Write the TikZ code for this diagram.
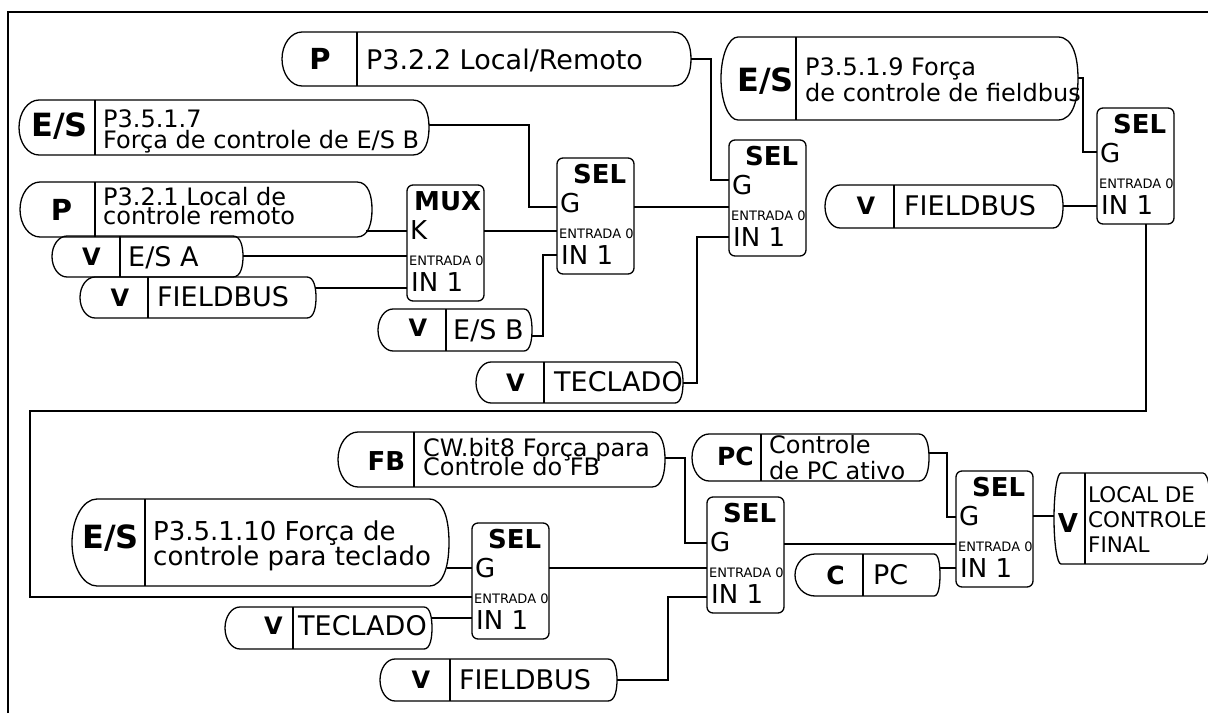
\documentclass[tikz,border=0pt]{standalone}
\usepackage{fontspec}
\setmainfont{DejaVu Sans}
\newcommand\fsz[1]{\fontsize{#1}{#1}\selectfont}
\newcommand\linesII[3]{\vtop{\baselineskip=#1pt\lineskiplimit=-100pt\lineskip=0pt\hbox{#2}\hbox{#3}}}
\newcommand\linesIII[4]{\vtop{\baselineskip=#1pt\lineskiplimit=-100pt\lineskip=0pt\hbox{#2}\hbox{#3}\hbox{#4}}}
% name xl xd xr yt yb rl rr
\newcommand\pillshape[8]{%
  \pgfmathsetmacro\pym{(#5+#6)/2}%
  \pgfmathsetmacro\phh{(#6-#5)/2}%
  \pgfmathsetmacro\pxa{#2+#7}%
  \pgfmathsetmacro\pxb{#4-#8}%
  \pgfmathsetmacro\pca{#2+#7*0.448}%
  \pgfmathsetmacro\pcb{#4-#8*0.2}%
  \pgfmathsetmacro\pyu{\pym-\phh*0.552}%
  \pgfmathsetmacro\pyd{\pym+\phh*0.552}%
  \pgfmathsetmacro\pyua{\pym-\phh*0.45}%
  \pgfmathsetmacro\pyda{\pym+\phh*0.45}%
  \pgfmathsetmacro\pcx{(#2+#4)/2}%
  \pgfmathsetmacro\pwd{#4-#2}%
  \pgfmathsetmacro\pht{#6-#5}%
  \node[pillnode, minimum width=\pwd pt, minimum height=\pht pt] (#1) at (\pcx,\pym) {};
  \draw[pillline] (\pxa,#5) -- (\pxb,#5) .. controls (\pcb,#5) and (#4,\pyua) .. (#4,\pym)
     .. controls (#4,\pyda) and (\pcb,#6) .. (\pxb,#6) -- (\pxa,#6)
     .. controls (\pca,#6) and (#2,\pyd) .. (#2,\pym)
     .. controls (#2,\pyu) and (\pca,#5) .. cycle;
  \draw[pillline] (#3,#5) -- (#3,#6);
}
% name x y title titledx ctrl
\newcommand\selblock[6]{%
  \node[selbox] (#1) at (#2,#3) {};
  \node[btx=26] (#1-t) at ({#2+#5},{#3+25}) {#4};
  \node[tx=26] (#1-c) at ({#2+3},{#3+54}) {#6};
  \node[tx=13] (#1-e) at ({#2+2},{#3+80}) {ENTRADA 0};
  \node[tx=26] (#1-i) at ({#2+4},{#3+106}) {IN 1};
}
\begin{document}
\begin{tikzpicture}[x=1pt,y=-1pt,
  wire/.style={line width=1.3pt},
  pillline/.style={line width=1.3pt, line join=round},
  pillnode/.style={draw=none, inner sep=0pt, outer sep=0pt},
  selbox/.style={draw, line width=1.3pt, rounded corners=6pt, minimum width=77pt,
    minimum height=116pt, anchor=north west, inner sep=0pt, outer sep=0pt},
  bl/.style={anchor=base, inner sep=0pt, font=\fsz{#1}\bfseries},
  btx/.style={anchor=base west, inner sep=0pt, font=\fsz{#1}\bfseries},
  tx/.style={anchor=base west, inner sep=0pt, font=\fsz{#1}},
]
\useasboundingbox (0,0) rectangle (1208,713);
\coordinate (fa) at (8,713);
\coordinate (fb) at (8,12);
\coordinate (fc) at (1208,12);
\draw[line width=1.4pt] (fa) -- (fb) -- (fc);

% ---------- pills ----------
\pillshape{pa}{282}{357}{691}{32}{86}{20}{18}
\node[bl=29] (pa-l) at (320,69) {P};
\node[tx=27] (pa-t) at (366,69) {P3.2.2 Local/Remoto};
\coordinate (pa-o) at (691,59);

\pillshape{pb}{19}{95}{429}{100}{155}{20}{16}
\node[bl=32] (pb-l) at (59.5,136) {E/S};
\node[tx=24] (pb-t) at (103,127) {\linesII{21}{P3.5.1.7}{Força de controle de E/S B}};
\coordinate (pb-o) at (429,125);

\pillshape{pc}{20}{95}{372}{182}{237}{20}{15}
\node[bl=29] (pc-l) at (61.5,220) {P};
\node[tx=24] (pc-t) at (103,205) {\linesII{19.5}{P3.2.1 Local de}{controle remoto}};
\coordinate (pc-o) at (366,231);

\pillshape{pd}{52}{120}{243}{236}{277}{15}{10}
\node[bl=24] (pd-l) at (91.5,265) {V};
\node[tx=27] (pd-t) at (128,266) {E/S A};
\coordinate (pd-o) at (243,256);

\pillshape{pe}{80}{148}{316}{277}{318}{15}{9}
\node[bl=24] (pe-l) at (120,306) {V};
\node[tx=27] (pe-t) at (157,306) {FIELDBUS};
\coordinate (pe-o) at (315,288);

\pillshape{pf}{378}{446}{532}{309}{351}{15}{8}
\node[bl=24] (pf-l) at (418,336) {V};
\node[tx=27] (pf-t) at (453,339) {E/S B};
\coordinate (pf-o) at (532,336);

\pillshape{pg}{476}{544}{683}{362}{403}{15}{8}
\node[bl=24] (pg-l) at (515.5,391) {V};
\node[tx=27] (pg-t) at (554,391) {TECLADO};
\coordinate (pg-o) at (683,383);

\pillshape{ph}{721}{796}{1078}{37}{120}{17}{20}
\node[bl=32] (ph-l) at (765.5,91) {E/S};
\node[tx=24] (ph-t) at (805,75) {\linesII{26}{P3.5.1.9 Força}{de controle de fieldbus}};
\coordinate (ph-o) at (1078,78);

\pillshape{pi}{825}{894}{1063}{185}{228}{15}{10}
\node[bl=24] (pi-l) at (866,214) {V};
\node[tx=27] (pi-t) at (904,215) {FIELDBUS};
\coordinate (pi-o) at (1063,206);

\pillshape{pj}{338}{414}{665}{432}{487}{20}{13}
\node[bl=26] (pj-l) at (386.5,470) {FB};
\node[tx=24] (pj-t) at (423,456) {\linesII{19}{CW.bit8 Força para}{Controle do FB}};
\coordinate (pj-o) at (665,458);

\pillshape{pk}{72}{145}{449}{499}{586}{25}{20}
\node[bl=32] (pk-l) at (110.5,548) {E/S};
\node[tx=26] (pk-t) at (153,540) {\linesII{25}{P3.5.1.10 Força de}{controle para teclado}};
\coordinate (pk-o) at (447,568);

\pillshape{pl}{225}{293}{432}{607}{649}{15}{8}
\node[bl=24] (pl-l) at (273.5,634) {V};
\node[tx=27] (pl-t) at (298,635) {TECLADO};
\coordinate (pl-o) at (432,618);

\pillshape{pm}{380}{450}{617}{659}{701}{15}{9}
\node[bl=24] (pm-l) at (421,688) {V};
\node[tx=27] (pm-t) at (459,689) {FIELDBUS};
\coordinate (pm-o) at (617,680);

\pillshape{pn}{692}{761}{929}{434}{481}{17}{10}
\node[bl=25] (pn-l) at (735.5,465) {PC};
\node[tx=24] (pn-t) at (769,453) {\linesII{26}{Controle}{de PC ativo}};
\coordinate (pn-o) at (929,453);

\pillshape{po}{795}{863}{940}{554}{596}{20}{6}
\node[bl=25] (po-l) at (835.5,584) {C};
\node[tx=27] (po-t) at (873,584) {PC};
\coordinate (po-o) at (940,568);

\pillshape{pp}{1054}{1085}{1211}{473}{564}{7}{8}
\node[bl=26] (pp-l) at (1068,532) {V};
\node[tx=21.5] (pp-t) at (1088,502) {\linesIII{25}{LOCAL DE}{CONTROLE}{FINAL}};
\coordinate (pp-i) at (1054,516);

% ---------- blocks ----------
\selblock{mx}{407}{185}{MUX}{7}{K}
\selblock{s1}{557}{158}{SEL}{16}{G}
\selblock{s2}{729}{140}{SEL}{16}{G}
\selblock{s3}{1097}{108}{SEL}{16}{G}
\selblock{s4}{472}{523}{SEL}{16}{G}
\selblock{s5}{707}{497}{SEL}{16}{G}
\selblock{s6}{956}{471}{SEL}{16}{G}

\coordinate (mx-K) at (407,231);
\coordinate (mx-E) at (407,256);
\coordinate (mx-I) at (407,288);
\coordinate (mx-O) at (484,231);
\coordinate (s1-G) at (557,207);
\coordinate (s1-E) at (557,231);
\coordinate (s1-I) at (557,255);
\coordinate (s1-O) at (634,207);
\coordinate (s2-G) at (729,180);
\coordinate (s2-E) at (729,207);
\coordinate (s2-I) at (729,237);
\coordinate (s3-G) at (1097,152);
\coordinate (s3-I) at (1097,206);
\coordinate (s3-D) at (1146,224);
\coordinate (bend) at (30,411);
\coordinate (s4-G) at (472,568);
\coordinate (s4-E) at (472,597);
\coordinate (s4-I) at (472,618);
\coordinate (s4-O) at (549,568);
\coordinate (s5-G) at (707,543);
\coordinate (s5-E) at (707,568);
\coordinate (s5-I) at (707,597);
\coordinate (s5-O) at (784,544);
\coordinate (s6-G) at (956,517);
\coordinate (s6-E) at (956,544);
\coordinate (s6-I) at (956,568);
\coordinate (s6-O) at (1033,516);

% ---------- wires ----------
\draw[wire] (pa-o) -| ([xshift=-18pt]s2-G) -- (s2-G);
\draw[wire] (pb-o) -| ([xshift=-28pt]s1-G) -- (s1-G);
\draw[wire] (pc-o) -- (mx-K);
\draw[wire] (pd-o) -- (mx-E);
\draw[wire] (pe-o) -- (mx-I);
\draw[wire] (mx-O) -- (s1-E);
\draw[wire] (pf-o) -| ([xshift=-14pt]s1-I) -- (s1-I);
\draw[wire] (s1-O) -- (s2-E);
\draw[wire] (pg-o) -| ([xshift=-32pt]s2-I) -- (s2-I);
\draw[wire] (ph-o) -| ([xshift=-14pt]s3-G) -- (s3-G);
\draw[wire] (pi-o) -- (s3-I);
\draw[wire] (s3-D) |- (bend) |- (s4-E);
\draw[wire] (pk-o) -- (s4-G);
\draw[wire] (pl-o) -- (s4-I);
\draw[wire] (s4-O) -- (s5-E);
\draw[wire] (pj-o) -| ([xshift=-22pt]s5-G) -- (s5-G);
\draw[wire] (pm-o) -| ([xshift=-39pt]s5-I) -- (s5-I);
\draw[wire] (s5-O) -- (s6-E);
\draw[wire] (pn-o) -| ([xshift=-9pt]s6-G) -- (s6-G);
\draw[wire] (po-o) -- (s6-I);
\draw[wire] (s6-O) -- (pp-i);
\end{tikzpicture}
\end{document}
